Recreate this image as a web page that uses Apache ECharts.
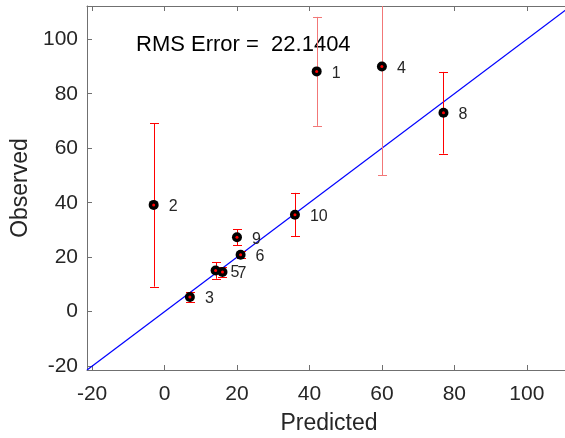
<!DOCTYPE html>
<html lang="en">
<head>
  <meta charset="utf-8">
  <title>Observed vs Predicted</title>
  <script src="https://cdn.jsdelivr.net/npm/echarts@6/dist/echarts.min.js"></script>
  <style>
    html, body { margin: 0; padding: 0; background: #fff; }
    #chart { width: 565px; height: 438px; }
  </style>
</head>
<body>
<div id="chart"></div>

<script>
// data
var pointIds  = ['1', '2', '3', '4', '5', '6', '7', '8', '9', '10'];
var predicted = [42, -3, 7, 60, 14.1, 21, 16, 77, 20, 36];
var observed  = [88.2, 39.2, 5.4, 90, 15.1, 20.9, 14.6, 73, 27.3, 35.6];
var errHalf   = [20, 30, 2, 40, 3, 1.2, 1.8, 15, 3, 8];
var fadedIds  = ['1', '4'];   // these two bars are drawn lighter

var axisMin = -21.4;
var axisMax = 112.2;
var tickValues = [-20, 0, 20, 40, 60, 80, 100];
var rmsText = 'RMS Error =  22.1404';

var font = 'Liberation Sans, Arial, Helvetica, sans-serif';
var txt = '#262626';
var axisCol = '#707070';

var chart = echarts.init(document.getElementById('chart'));

// error bars: [x, low, high, faded]
var barData = pointIds.map(function (id, i) {
  return [predicted[i], observed[i] - errHalf[i], observed[i] + errHalf[i],
          fadedIds.indexOf(id) >= 0 ? 1 : 0];
});
var pts = pointIds.map(function (id, i) {
  return { value: [predicted[i], observed[i]], name: id };
});

function errorBar(params, api) {
  var x = api.value(0);
  var top = api.coord([x, api.value(2)]);
  var bot = api.coord([x, api.value(1)]);
  var px = Math.round(top[0]) + 0.5;
  var w = 4.5;
  var st = { stroke: api.value(3) ? '#f27777' : '#ff0000', lineWidth: 1, fill: null };
  return {
    type: 'group',
    children: [
      { type: 'line', shape: { x1: px, y1: top[1], x2: px, y2: bot[1] }, style: st },
      { type: 'line', shape: { x1: px - w, y1: Math.round(top[1]) + 0.5, x2: px + w, y2: Math.round(top[1]) + 0.5 }, style: st },
      { type: 'line', shape: { x1: px - w, y1: Math.round(bot[1]) + 0.5, x2: px + w, y2: Math.round(bot[1]) + 0.5 }, style: st }
    ]
  };
}

function axisBase(extra) {
  var a = {
    type: 'value',
    min: axisMin,
    max: axisMax,
    splitLine: { show: false },
    axisLine: { show: true, onZero: false, lineStyle: { color: axisCol, width: 1 } },
    axisTick: { show: true, inside: true, length: 5, customValues: tickValues,
                lineStyle: { color: axisCol } },
    axisLabel: { show: false }
  };
  for (var k in extra) a[k] = extra[k];
  return a;
}

option = {
  animation: false,
  backgroundColor: '#fff',
  textStyle: { fontFamily: font },
  grid: { left: 87, top: 6, width: 484, height: 364, outerBoundsMode: 'none', containLabel: false },
  xAxis: [
    axisBase({
      position: 'bottom',
      name: 'Predicted',
      nameLocation: 'middle',
      nameGap: 42,
      nameTextStyle: { fontSize: 23, color: txt, fontFamily: font },
      axisLabel: { show: true, customValues: tickValues, fontSize: 21, color: txt,
                   margin: 14, fontFamily: font }
    }),
    axisBase({ position: 'top' })
  ],
  yAxis: [
    axisBase({
      position: 'left',
      name: 'Observed',
      nameLocation: 'middle',
      nameGap: 46,
      nameTextStyle: { fontSize: 23, color: txt, fontFamily: font },
      axisLabel: { show: true, customValues: tickValues, fontSize: 21, color: txt,
                   margin: 9, fontFamily: font }
    }),
    axisBase({ position: 'right' })
  ],
  graphic: [{
    type: 'text',
    x: 136,
    y: 45,
    style: { text: rmsText, font: '22px ' + font, fill: '#000',
             textVerticalAlign: 'middle' }
  }],
  series: [
    {
      type: 'line',
      data: [[axisMin, axisMin], [axisMax, axisMax]],
      showSymbol: false,
      lineStyle: { color: '#0000ff', width: 1.2 },
      silent: true,
      z: 1
    },
    {
      type: 'custom',
      renderItem: errorBar,
      data: barData,
      clip: true,
      encode: { x: 0, y: [1, 2] },
      z: 2
    },
    {
      type: 'scatter',
      data: pts,
      symbol: 'circle',
      symbolSize: 10,
      itemStyle: { color: '#000', opacity: 1 },
      label: {
        show: true,
        position: 'right',
        distance: 10,
        offset: [0, 2],
        formatter: '{b}',
        fontSize: 16,
        color: txt,
        opacity: 1,
        fontFamily: font
      },
      z: 3
    },
    {
      type: 'scatter',
      data: pts,
      symbol: 'circle',
      symbolSize: 3,
      itemStyle: { color: '#ff0000', opacity: 1 },
      silent: true,
      z: 4
    }
  ]
};
chart.setOption(option);
</script>
</body>
</html>
